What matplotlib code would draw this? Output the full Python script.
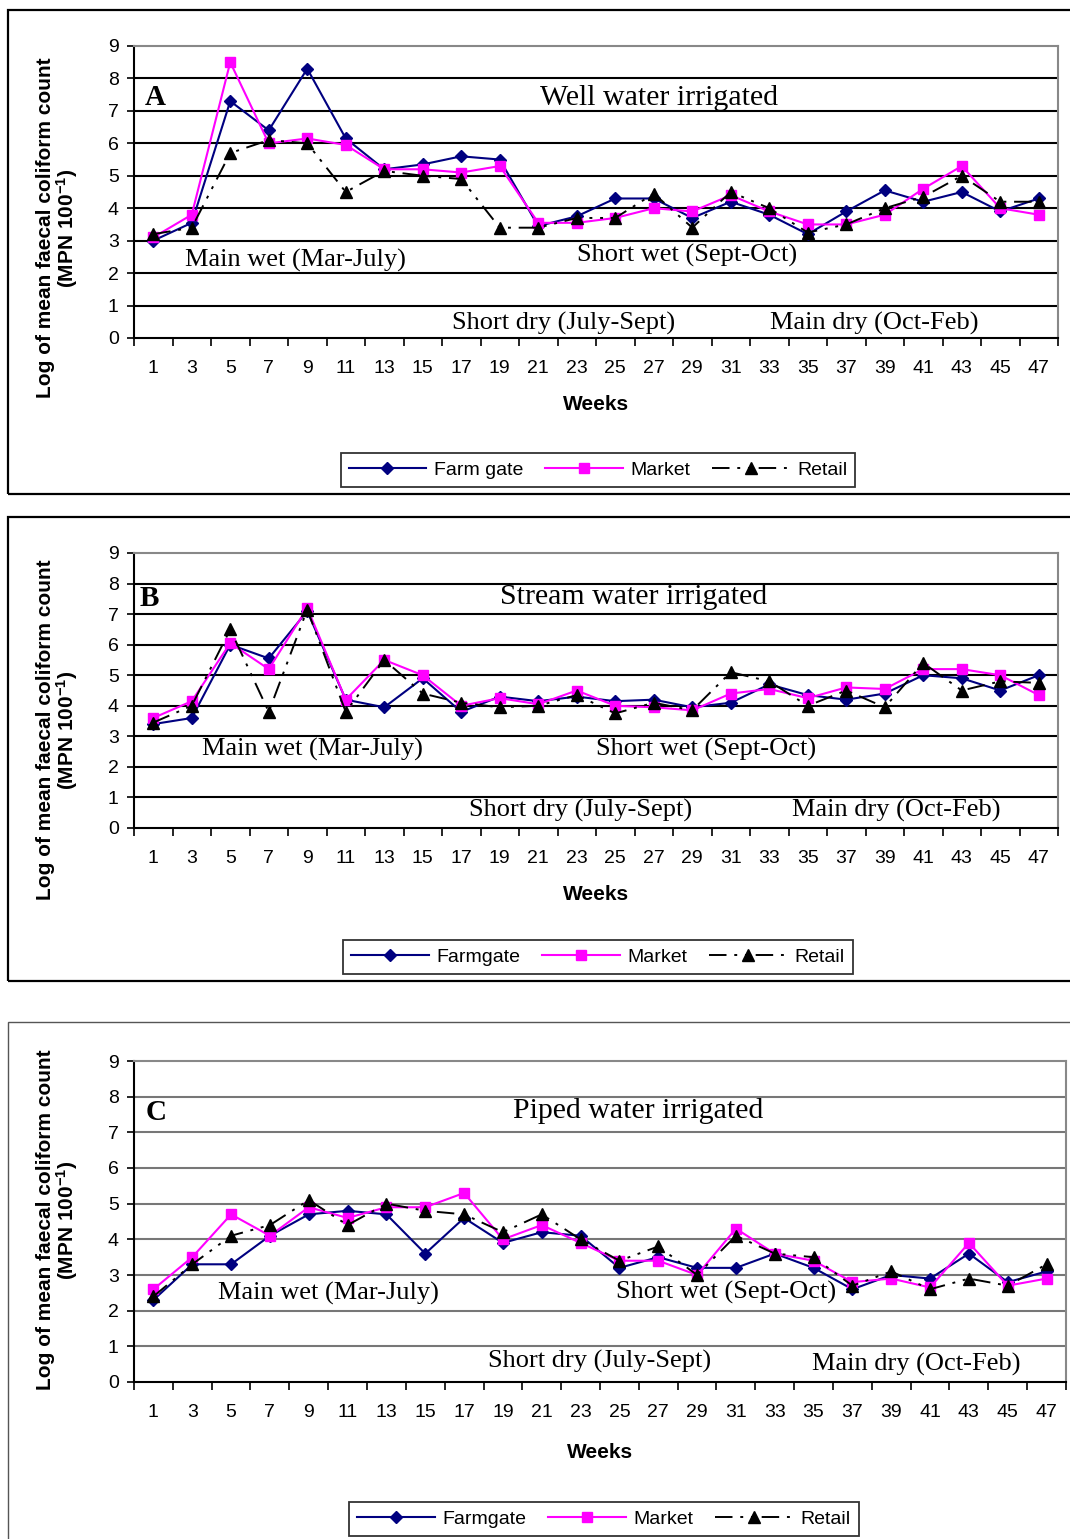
import numpy as np
import matplotlib
matplotlib.use("Agg")
import matplotlib.pyplot as plt
from matplotlib.patches import Rectangle

weeks = [1, 3, 5, 7, 9, 11, 13, 15, 17, 19, 21, 23, 25, 27, 29, 31, 33, 35, 37, 39, 41, 43, 45, 47]

# A - well water
farm_a = [3.0, 3.55, 7.3, 6.4, 8.3, 6.15, 5.2, 5.35, 5.6, 5.5, 3.45, 3.75,
          4.3, 4.3, 3.7, 4.2, 3.8, 3.2, 3.9, 4.55, 4.2, 4.5, 3.9, 4.3]
market_a = [3.1, 3.8, 8.5, 6.0, 6.15, 5.95, 5.2, 5.2, 5.1, 5.3, 3.55, 3.55,
            3.7, 4.0, 3.9, 4.4, 3.9, 3.5, 3.5, 3.8, 4.6, 5.3, 4.0, 3.8]
retail_a = [3.2, 3.4, 5.7, 6.1, 6.0, 4.5, 5.15, 5.0, 4.9, 3.4, 3.4, 3.7,
            3.7, 4.45, 3.4, 4.5, 4.0, 3.25, 3.5, 4.0, 4.35, 5.0, 4.2, 4.2]

# B - stream water
farm_b = [3.4, 3.6, 6.0, 5.55, 7.1, 4.2, 3.95, 4.9, 3.8, 4.3, 4.15, 4.3,
          4.15, 4.2, 3.95, 4.1, 4.7, 4.35, 4.2, 4.4, 5.0, 4.9, 4.5, 5.0]
market_b = [3.6, 4.15, 6.05, 5.2, 7.2, 4.2, 5.5, 5.0, 4.0, 4.25, 4.05, 4.5,
            4.0, 3.95, 3.85, 4.4, 4.55, 4.25, 4.6, 4.55, 5.2, 5.2, 5.0, 4.35]
retail_b = [3.45, 4.0, 6.5, 3.8, 7.15, 3.8, 5.5, 4.4, 4.1, 3.95, 4.0, 4.35,
            3.75, 4.1, 3.85, 5.1, 4.8, 4.0, 4.5, 3.95, 5.4, 4.5, 4.8, 4.75]

# C - piped water
farm_c = [2.3, 3.3, 3.3, 4.1, 4.7, 4.8, 4.7, 3.6, 4.6, 3.9, 4.2, 4.1,
          3.2, 3.5, 3.2, 3.2, 3.6, 3.2, 2.6, 3.0, 2.9, 3.6, 2.8, 3.1]
market_c = [2.6, 3.5, 4.7, 4.1, 4.9, 4.6, 4.9, 4.9, 5.3, 4.0, 4.4, 3.9,
            3.4, 3.4, 3.0, 4.3, 3.6, 3.4, 2.8, 2.9, 2.65, 3.9, 2.7, 2.9]
retail_c = [2.4, 3.3, 4.1, 4.4, 5.1, 4.4, 5.0, 4.8, 4.7, 4.2, 4.7, 4.0,
            3.4, 3.8, 3.0, 4.1, 3.6, 3.5, 2.7, 3.1, 2.6, 2.9, 2.7, 3.3]

titles = ["Well water irrigated", "Stream water irrigated", "Piped water irrigated"]
letters = ["A", "B", "C"]
farm_names = ["Farm gate", "Farmgate", "Farmgate"]
seasons = ["Main wet (Mar-July)", "Short wet (Sept-Oct)", "Short dry (July-Sept)", "Main dry (Oct-Feb)"]

W, H = 1070, 1539
fig = plt.figure(figsize=(W / 100, H / 100), dpi=100)
plt.rcParams['font.family'] = ['Liberation Sans', 'DejaVu Sans']
plt.rcParams['mathtext.fontset'] = 'custom'
plt.rcParams['mathtext.rm'] = 'Liberation Sans:bold'
plt.rcParams['mathtext.default'] = 'rm'
serif = 'Liberation Serif'


def px_rect(l, t, r, b):
    return [l / W, 1 - b / H, (r - l) / W, (b - t) / H]


panels = [
    dict(box=(8, 10, 1072, 494), boxc='black', boxw=1.6, ax=(134, 46, 1058, 338), grid='black',
         leg=(598, 470), weeks_y=405, ylab_y=228,
         txt=[(0.012, 0.825), (0.439, 0.822), (0.055, 0.267), (0.479, 0.281), (0.344, 0.051), (0.688, 0.051)]),
    dict(box=(8, 517, 1072, 981), boxc='black', boxw=1.6, ax=(134, 553, 1058, 828), grid='black',
         leg=(598, 957), weeks_y=894, ylab_y=730,
         txt=[(0.006, 0.833), (0.396, 0.840), (0.074, 0.284), (0.500, 0.284), (0.363, 0.062), (0.712, 0.062)]),
    dict(box=(8, 1022, 1072, 1545), boxc='#555555', boxw=1.0, ax=(134, 1061, 1066, 1382), grid='#777777',
         leg=(604, 1519), weeks_y=1452, ylab_y=1220,
         txt=[(0.012, 0.841), (0.407, 0.844), (0.090, 0.277), (0.517, 0.280), (0.380, 0.065), (0.728, 0.056)]),
]
series = [(farm_a, market_a, retail_a), (farm_b, market_b, retail_b), (farm_c, market_c, retail_c)]

x = np.arange(len(weeks))
for k, p in enumerate(panels):
    l, t, r, b = p['box']
    fig.patches.append(Rectangle((l / W, 1 - b / H), (r - l) / W, (b - t) / H,
                                 transform=fig.transFigure, fill=False,
                                 edgecolor=p['boxc'], linewidth=p['boxw']))
    ax = fig.add_axes(px_rect(*p['ax']))
    f, m, rt = series[k]
    ax.plot(x, f, color='#000080', marker='D', markersize=6, linewidth=1.5, label=farm_names[k], zorder=3)
    ax.plot(x, m, color='#FF00FF', marker='s', markersize=6.5, linewidth=1.5, label='Market', zorder=3)
    ax.plot(x, rt, color='black', marker='^', markersize=8, linewidth=1.4,
            dashes=(9, 4, 1.5, 4, 1.5, 4), label='Retail', zorder=4)
    ax.set_xlim(-0.5, len(weeks) - 0.5)
    ax.set_ylim(0, 9)
    ax.set_yticks(range(10))
    for yv in range(1, 9):
        ax.axhline(yv, color=p['grid'], linewidth=1.5, zorder=1)
    ax.set_xticks(x)
    ax.set_xticklabels([str(w) for w in weeks], fontsize=14)
    ax.set_xticks(np.arange(-0.5, len(weeks)), minor=True)
    ax.tick_params(axis='x', which='major', length=0, pad=16)
    ax.tick_params(axis='x', which='minor', length=6, width=1.2, direction='out')
    ax.tick_params(axis='y', length=5, width=1.2, direction='out', labelsize=14, pad=6)
    for s in ['top', 'right']:
        ax.spines[s].set_color('#888888')
        ax.spines[s].set_linewidth(1.5)
    for s in ['left', 'bottom']:
        ax.spines[s].set_color('black')
        ax.spines[s].set_linewidth(1.5)
    tx = p['txt']
    ax.text(tx[0][0], tx[0][1], letters[k], transform=ax.transAxes, family=serif,
            fontsize=21, fontweight='bold', va='center', ha='left')
    ax.text(tx[1][0], tx[1][1], titles[k], transform=ax.transAxes, family=serif,
            fontsize=21.5, va='center', ha='left')
    for (xx, yy), s in zip(tx[2:], seasons):
        ax.text(xx, yy, s, transform=ax.transAxes, family=serif, fontsize=19, va='center', ha='left')

    cx = (p['ax'][0] + p['ax'][2]) / 2
    fig.text(cx / W, 1 - p['weeks_y'] / H, "Weeks", fontsize=15, fontweight='bold', ha='center', va='center')
    fig.text(58 / W, 1 - p['ylab_y'] / H, "Log of mean faecal coliform count\n(MPN 100$^{-1}$)",
             fontsize=15, fontweight='bold', rotation=90, ha='center', va='center',
             multialignment='center', linespacing=1.0)

    lx, ly = p['leg']
    leg = fig.legend(*ax.get_legend_handles_labels(), loc='center', bbox_to_anchor=(lx / W, 1 - ly / H),
                     ncol=3, fontsize=14, frameon=True, fancybox=False, edgecolor='black',
                     handlelength=4.0, columnspacing=1.1, handletextpad=0.4, borderpad=0.4)
    leg.get_frame().set_linewidth(1.3)

fig.savefig("out.png", dpi=100)
